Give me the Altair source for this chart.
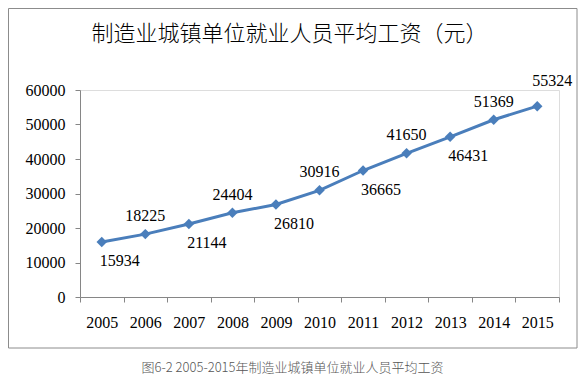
import altair as alt
import pandas as pd

years = ["2005", "2006", "2007", "2008", "2009", "2010", "2011", "2012", "2013", "2014", "2015"]
wages = [15934, 18225, 21144, 24404, 26810, 30916, 36665, 41650, 46431, 51369, 55324]
label_side = ["below", "above", "below", "above", "below", "above", "below", "above", "below", "above", "upper-right"]
y_ticks = [0, 10000, 20000, 30000, 40000, 50000, 60000]

title_text = "制造业城镇单位就业人员平均工资（元）"
caption_text = "图6-2 2005-2015年制造业城镇单位就业人员平均工资"

df = pd.DataFrame({"year": years, "wage": wages, "side": label_side})

BLUE = "#4A7EBB"
SERIF = "Liberation Serif, Times New Roman, serif"
CJK = "Noto Sans CJK SC"

x_enc = alt.X(
    "year:N",
    sort=years,
    scale=alt.Scale(paddingInner=0, paddingOuter=0),
    axis=alt.Axis(
        title=caption_text,
        titleFont=CJK,
        titleFontSize=13,
        titleFontWeight=300,
        titleColor="#555555",
        titleX=212,
        titleY=70,
        titleBaseline="middle",
        titleAlign="center",
        labelAngle=0,
        labelFont=SERIF,
        labelFontSize=16,
        labelColor="#000000",
        labelPadding=12,
        tickBand="extent",
        tickSize=5,
        tickColor="#868686",
        domainColor="#868686",
        grid=False,
    ),
)
y_enc = alt.Y(
    "wage:Q",
    scale=alt.Scale(domain=[0, 60000], nice=False),
    axis=alt.Axis(
        title=None,
        values=y_ticks,
        format="d",
        labelFont=SERIF,
        labelFontSize=16,
        labelColor="#000000",
        labelPadding=10,
        tickSize=5,
        tickColor="#868686",
        domainColor="#868686",
        grid=False,
    ),
)

base = alt.Chart(df).encode(x=x_enc, y=y_enc)

line = base.mark_line(color=BLUE, strokeWidth=3)
points = base.mark_point(shape="diamond", filled=True, color=BLUE, size=110, opacity=1)

def labels(side, dx, dy):
    return base.transform_filter(alt.datum.side == side).mark_text(
        font=SERIF, fontSize=16, color="#000000", dx=dx, dy=dy, baseline="middle", align="center"
    ).encode(text=alt.Text("wage:Q", format="d"))

lab_above = labels("above", 0, -18)
lab_below = labels("below", 18, 19)
lab_ur = labels("upper-right", 15, -25)

frame = alt.Chart(pd.DataFrame({"a": [0]})).mark_rect(
    fill=None, stroke="#8c8c8c", strokeWidth=1
).encode(
    x=alt.value(-71.5), x2=alt.value(497), y=alt.value(-81.5), y2=alt.value(258)
)

chart = alt.layer(frame, line, points, lab_above, lab_below, lab_ur).properties(
    width=479,
    height=207,
    autosize=alt.AutoSizeParams(type="none"),
    padding={"left": 72, "top": 82, "right": 20, "bottom": 78},
    title=alt.TitleParams(
        text=title_text,
        font=CJK,
        fontSize=22,
        fontWeight=300,
        color="#000000",
        anchor="middle",
        dx=-30,
        dy=48,
        offset=0,
        baseline="middle",
    ),
).configure_view(stroke=None).configure(background="#ffffff")

chart.save("out.html", embed_options={"renderer": "svg", "actions": False})
